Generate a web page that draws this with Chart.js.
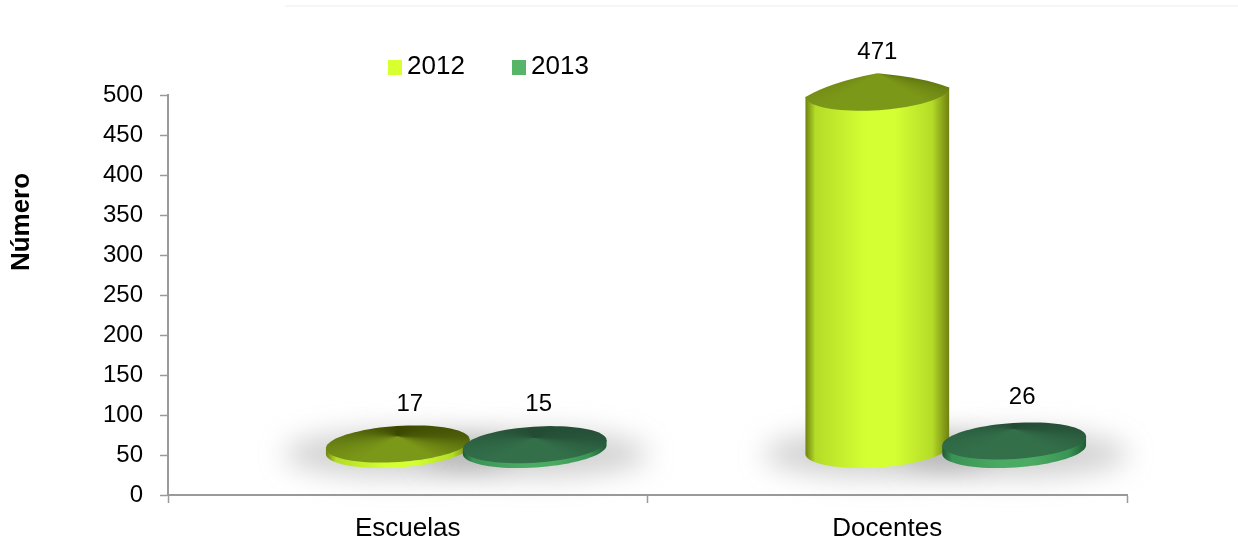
<!DOCTYPE html>
<html>
<head>
<meta charset="utf-8">
<script src="https://cdn.jsdelivr.net/npm/chart.js@4/dist/chart.umd.js"></script>
<style>
html, body { margin: 0; padding: 0; background: #fff; }
#topline { position: absolute; left: 285px; top: 5px; width: 953px; height: 2px; background: #f6f6f6; }
</style>
</head>
<body>
<div id="topline"></div>
<canvas id="chart" width="1238" height="541" style="display:block"></canvas>
<script>
const categories = ['Escuelas', 'Docentes'];
const years = ['2012', '2013'];
const values2012 = [17, 471];
const values2013 = [15, 26];
const yTicks = [0, 50, 100, 150, 200, 250, 300, 350, 400, 450, 500];

const font = '"Liberation Sans", Arial, sans-serif';
const axisGrey = '#9a9a9a';

// colours for each series: side gradient, cone back, cone sides, cone front
const looks = [
    { key: '#d8ff2e', edge: '#6f8010', mid: '#b4dc28', light: '#d4ff33', back: '#3b4700', sideL: '#5e7410', sideR: '#4c5c08', front: '#7c9818' },
    { key: '#56b567', edge: '#1f5a34', mid: '#3a9455', light: '#4bab63', back: '#234a33', sideL: '#2b5f40', sideR: '#27543a', front: '#33704a' }
];

// 3D look of the original: everything is pushed back and right of the axes
const depthX = 58.5, depthY = -45;
const bevelMax = 19, tilt = -0.065;
// value labels do not sit exactly over the tips in the original [dx, dy] per series and category
const labelShift = [[[12, -32], [0, -21]], [[4, -34], [8, -32]]];

function rimPoint(cx, cy, rx, ry, a) {
    const x = rx * Math.cos(a), y = ry * Math.sin(a);
    return [cx + x * Math.cos(tilt) - y * Math.sin(tilt), cy + x * Math.sin(tilt) + y * Math.cos(tilt)];
}

function drawShadow(ctx, x) {
    ctx.save();
    ctx.filter = 'blur(14px)';
    ctx.fillStyle = 'rgba(125,125,125,0.36)';
    ctx.beginPath();
    ctx.ellipse(x, 454, 114, 23, 0, 0, Math.PI * 2);
    ctx.fill();
    ctx.restore();
}

function drawCone(ctx, bar, look) {
    const rx = bar.width * 0.526, ry = 18;
    const x = bar.x + depthX;
    const base = bar.base + depthY;
    const apex = bar.y + depthY;
    const h = base - apex;
    const tall = h * 0.58 > bevelMax;
    const rimY = apex + Math.min(bevelMax, h * 0.58);

    // side of the cylinder
    const side = ctx.createLinearGradient(x - rx, 0, x + rx, 0);
    side.addColorStop(0, look.edge);
    side.addColorStop(0.07, look.mid);
    side.addColorStop(0.42, look.light);
    side.addColorStop(0.62, look.light);
    side.addColorStop(0.88, look.mid);
    side.addColorStop(1, look.edge);
    ctx.fillStyle = side;
    ctx.beginPath();
    const l = rimPoint(x, rimY, rx, ry, Math.PI), r = rimPoint(x, rimY, rx, ry, 0);
    ctx.moveTo(l[0], l[1]);
    for (let a = Math.PI; a >= 0; a -= Math.PI / 40) {
        const p = rimPoint(x, base, rx, ry, a);
        ctx.lineTo(p[0], p[1]);
    }
    ctx.lineTo(r[0], r[1]);
    ctx.closePath();
    ctx.fill();

    // top: front of the rim, then up to the tip on a tall bar; the whole rim on a flat one
    ctx.beginPath();
    ctx.moveTo(l[0], l[1]);
    for (let a = Math.PI; a >= 0; a -= Math.PI / 40) {
        const p = rimPoint(x, rimY, rx, ry, a);
        ctx.lineTo(p[0], p[1]);
    }
    if (tall) {
        ctx.quadraticCurveTo(r[0] - 25, r[1] - 10, x, apex);
        ctx.quadraticCurveTo(l[0] + 26, l[1] - 15, l[0], l[1]);
    } else {
        for (let a = 0; a >= -Math.PI; a -= Math.PI / 40) {
            const p = rimPoint(x, rimY, rx, ry, a);
            ctx.lineTo(p[0], p[1]);
        }
    }
    ctx.closePath();

    // shade in squashed space so the facets spread round the flat ellipse
    ctx.save();
    ctx.translate(x, apex);
    ctx.scale(1, 0.25);
    const top = ctx.createConicGradient(-Math.PI / 2, 0, 0);
    top.addColorStop(0, look.back);
    top.addColorStop(0.25, look.sideR);
    top.addColorStop(0.44, look.front);
    top.addColorStop(0.56, look.front);
    top.addColorStop(0.75, look.sideL);
    top.addColorStop(1, look.back);
    ctx.fillStyle = top;
    ctx.fill();
    ctx.restore();
}

const conePlugin = {
    id: 'cones',
    afterDatasetsDraw(chart) {
        const ctx = chart.ctx;
        const bars = [];
        chart.data.datasets.forEach(function(ds, d) {
            chart.getDatasetMeta(d).data.forEach(function(bar, i) {
                bars.push({ bar: bar, look: looks[d], value: ds.data[i], shift: labelShift[d][i] });
            });
        });
        bars.forEach(function(b) { drawShadow(ctx, b.bar.x + depthX); });
        bars.forEach(function(b) { drawCone(ctx, b.bar, b.look); });

        // value labels above each tip
        ctx.fillStyle = '#000';
        ctx.font = '24px ' + font;
        ctx.textAlign = 'center';
        ctx.textBaseline = 'middle';
        bars.forEach(function(b) {
            ctx.fillText(String(b.value), b.bar.x + depthX + b.shift[0], b.bar.y + depthY + b.shift[1]);
        });

        // legend
        ctx.textAlign = 'left';
        ctx.font = '26px ' + font;
        const legendX = [388, 512];
        years.forEach(function(y, i) {
            ctx.fillStyle = looks[i].key;
            ctx.fillRect(legendX[i], 60, 14, 15);
            ctx.fillStyle = '#000';
            ctx.fillText(y, legendX[i] + 19, 67);
        });

        // axis title sits above the middle of the axis in the original
        ctx.save();
        ctx.translate(22, 222);
        ctx.rotate(-Math.PI / 2);
        ctx.textAlign = 'center';
        ctx.font = 'bold 26px ' + font;
        ctx.fillText('Número', 0, 0);
        ctx.restore();
    }
};

new Chart(document.getElementById('chart').getContext('2d'), {
    type: 'bar',
    data: {
        labels: categories,
        datasets: [
            { label: years[0], data: values2012, backgroundColor: 'rgba(0,0,0,0)' },
            { label: years[1], data: values2013, backgroundColor: 'rgba(0,0,0,0)' }
        ]
    },
    options: {
        responsive: false,
        animation: false,
        devicePixelRatio: 1,
        categoryPercentage: 0.571,
        barPercentage: 1,
        layout: { padding: { top: 95, right: 111, bottom: 0, left: 0 } },
        plugins: { legend: { display: false }, tooltip: { enabled: false }, title: { display: false } },
        scales: {
            x: {
                afterFit(scale) { scale.height = 46; },
                grid: { offset: true, drawOnChartArea: false, drawTicks: true, tickLength: 8, tickColor: axisGrey, tickWidth: 1.5 },
                border: { color: axisGrey, width: 2 },
                ticks: { color: '#000', font: { family: font, size: 26 }, padding: 10, maxRotation: 0 }
            },
            y: {
                min: 0,
                max: 500,
                afterFit(scale) { scale.width = 168; },
                afterBuildTicks(scale) { scale.ticks = yTicks.map(function(v) { return { value: v }; }); },
                grid: { drawOnChartArea: false, drawTicks: true, tickLength: 8, tickColor: axisGrey, tickWidth: 1.5 },
                border: { color: axisGrey, width: 2 },
                ticks: { color: '#000', font: { family: font, size: 24 }, padding: 17 }
            }
        }
    },
    plugins: [conePlugin]
});
</script>
</body>
</html>
